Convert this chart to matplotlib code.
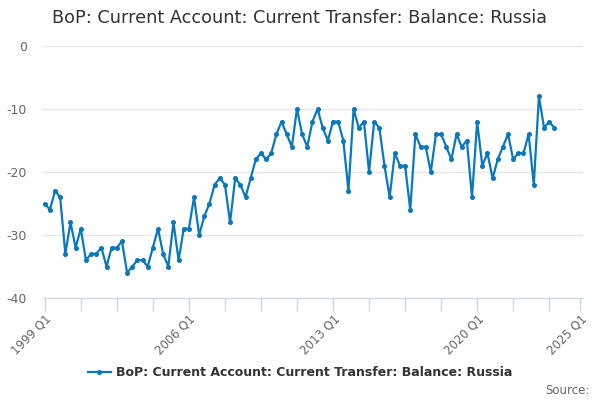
import matplotlib
matplotlib.use("Agg")
import matplotlib.pyplot as plt
import numpy as np

# quarterly values, 1999 Q1 .. 2023 Q4
values = [
    -25, -26, -23, -24, -33, -28, -32, -29, -34, -33,
    -33, -32, -35, -32, -32, -31, -36, -35, -34, -34,
    -35, -32, -29, -33, -35, -28, -34, -29, -29, -24,
    -30, -27, -25, -22, -21, -22, -28, -21, -22, -24,
    -21, -18, -17, -18, -17, -14, -12, -14, -16, -10,
    -14, -16, -12, -10, -13, -15, -12, -12, -15, -23,
    -10, -13, -12, -20, -12, -13, -19, -24, -17, -19,
    -19, -26, -14, -16, -16, -20, -14, -14, -16, -18,
    -14, -16, -15, -24, -12, -19, -17, -21, -18, -16,
    -14, -18, -17, -17, -14, -22, -8, -13, -12, -13,
]
tick_idx = [0, 7, 14, 21, 28, 35, 42, 49, 56, 63, 70, 77, 84, 91, 98, 104]
tick_labels = {0: "1999 Q1", 28: "2006 Q1", 56: "2013 Q1", 84: "2020 Q1", 104: "2025 Q1"}
yticks = [0, -10, -20, -30, -40]
series_name = "BoP: Current Account: Current Transfer: Balance: Russia"

line_color = "#0a78bd"

fig = plt.figure(figsize=(6, 4), dpi=100)
ax = fig.add_axes([0.072, 0.255, 0.9, 0.63])

x = np.arange(len(values))
ax.plot(x, values, color=line_color, lw=1.6, marker="o", ms=2.6, label=series_name)

ax.set_xlim(-0.3, 104.6)
ax.set_ylim(-40, 0)
ax.set_yticks(yticks)
ax.set_yticklabels([str(v) for v in yticks])
ax.grid(axis="y", color="#e6e6e6", lw=1)
ax.set_axisbelow(True)

ax.set_xticks(tick_idx)
ax.set_xticklabels([tick_labels.get(i, "") for i in tick_idx], rotation=45,
                   ha="right", rotation_mode="anchor")

for s in ["top", "right", "left"]:
    ax.spines[s].set_visible(False)
ax.spines["bottom"].set_color("#ccd6eb")
ax.tick_params(axis="x", colors="#ccd6eb", length=9, width=1, labelcolor="#666666",
               labelsize=8.5, pad=1)
ax.tick_params(axis="y", length=0, labelcolor="#666666", labelsize=9, pad=11.5)

fig.text(0.5, 0.955, series_name, ha="center", va="center", fontsize=12.7, color="#333333")

leg = fig.legend(loc="center", bbox_to_anchor=(0.5, 0.068), frameon=False,
                 handlelength=1.8, handletextpad=0.4,
                 prop={"size": 9, "weight": "bold"})
for t in leg.get_texts():
    t.set_color("#333333")

fig.text(0.982, 0.025, "Source:", ha="right", va="center", fontsize=8.5, color="#666666")

fig.savefig("out.png", dpi=100)
